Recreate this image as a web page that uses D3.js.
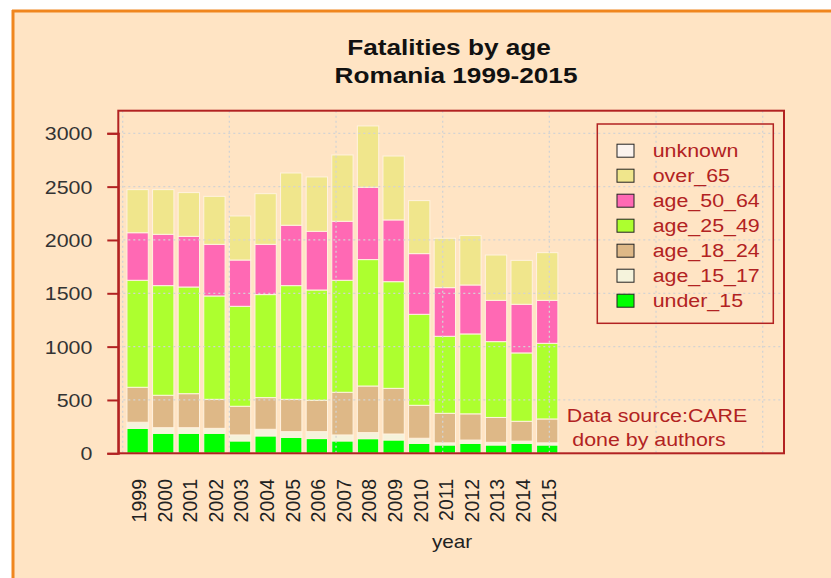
<!DOCTYPE html>
<html>
<head>
<meta charset="utf-8">
<script src="https://cdn.jsdelivr.net/npm/d3@7"></script>
<style>
  body { margin: 0; background: #fff; }
  svg { display: block; font-family: "Liberation Sans", Arial, sans-serif; }
</style>
</head>
<body>
<div class="chart"></div>
<script>
// data
var years = ["1999","2000","2001","2002","2003","2004","2005","2006","2007",
             "2008","2009","2010","2011","2012","2013","2014","2015"];
var under_15  = [234, 188, 188, 188, 116, 163, 150, 138, 116, 137, 125,  94,  78,  94,  78,  94,  78];
var age_15_17 = [ 57,  52,  52,  46,  56,  62,  53,  65,  56,  57,  56,  47,  20,  30,  25,  20,  20];
var age_18_24 = [328, 304, 319, 272, 269, 297, 303, 294, 400, 437, 428, 309, 277, 246, 233, 186, 224];
var age_25_49 = [1003,1028,1000, 969, 937, 966,1066,1034,1050,1185,1000, 853, 722, 749, 711, 641, 709];
var age_50_64 = [446, 481, 475, 484, 434, 471, 566, 550, 553, 678, 579, 569, 456, 459, 387, 456, 403];
var over_65   = [404, 419, 410, 450, 413, 475, 490, 510, 622, 575, 599, 497, 463, 463, 425, 412, 447];
var unknown   = [  0,   0,   0,   0,   0,   0,   0,   0,   0,   0,   0,   0,   0,   0,   0,   0,   0];
var keys = ["under_15","age_15_17","age_18_24","age_25_49","age_50_64","over_65","unknown"];
var yTicks = [0, 500, 1000, 1500, 2000, 2500, 3000];

var colors = {
  under_15: "#00ff00", age_15_17: "#f5f3dc", age_18_24: "#deb887",
  age_25_49: "#adff2f", age_50_64: "#ff69b4", over_65: "#f0e68c", unknown: "#fbf3ee"
};
var red = "#b22222";
var sx = 1.15; // the picture is a bit wider than tall

var svgWidth = 831, svgHeight = 578;
var box = { left: 118.3, right: 784, top: 110.7, bottom: 453.3 };

var rows = years.map(function(y, i) {
  return { year: y, under_15: under_15[i], age_15_17: age_15_17[i], age_18_24: age_18_24[i],
    age_25_49: age_25_49[i], age_50_64: age_50_64[i], over_65: over_65[i], unknown: unknown[i] };
});

var svg = d3.select(".chart").append("svg")
  .attr("width", svgWidth)
  .attr("height", svgHeight);

// page background with orange frame
svg.append("rect").attr("x", 12).attr("y", 10).attr("width", 830).attr("height", 580).attr("fill", "#ffe4c4");
svg.append("line").attr("x1", 12).attr("x2", 831).attr("y1", 11).attr("y2", 11)
  .attr("stroke", "#f0861e").attr("stroke-width", 3);
svg.append("line").attr("x1", 13).attr("x2", 13).attr("y1", 10).attr("y2", 578)
  .attr("stroke", "#f0861e").attr("stroke-width", 3);

// R-like user units on x: bar slot 1.2, gridlines every 5
var xu = d3.scaleLinear().domain([0, 30]).range([122.7, 762.7]);
var x = d3.scaleBand().domain(years)
  .range([xu(0.1), xu(20.5)])
  .paddingInner(1 / 6).paddingOuter(1 / 12);
var y = d3.scaleLinear().domain([0, 3000]).range([box.bottom, 133.3]);

var stacked = d3.stack().keys(keys)(rows);

svg.append("g").selectAll("g")
  .data(stacked)
  .enter().append("g")
  .attr("fill", d => colors[d.key])
  .selectAll("rect")
  .data(d => d)
  .enter().append("rect")
  .attr("x", d => x(d.data.year))
  .attr("width", x.bandwidth())
  .attr("y", d => y(d[1]))
  .attr("height", d => y(d[0]) - y(d[1]))
  .attr("stroke", "#fff2df")
  .attr("stroke-width", 1)
  .attr("display", d => d[1] - d[0] > 0 ? null : "none");

// dotted grid
var grid = svg.append("g").attr("stroke", "#d3d3d3").attr("stroke-width", 1.3)
  .attr("stroke-dasharray", "2,3");
grid.selectAll(".hg").data(yTicks).enter().append("line")
  .attr("x1", box.left).attr("x2", box.right)
  .attr("y1", d => y(d)).attr("y2", d => y(d));
grid.selectAll(".vg").data([0, 5, 10, 15, 20, 25, 30]).enter().append("line")
  .attr("x1", d => xu(d)).attr("x2", d => xu(d))
  .attr("y1", box.top).attr("y2", box.bottom);

// plot frame
svg.append("rect")
  .attr("x", box.left).attr("y", box.top)
  .attr("width", box.right - box.left).attr("height", box.bottom - box.top)
  .attr("fill", "none").attr("stroke", red).attr("stroke-width", 2);

// y axis
var leftAxis = d3.axisLeft(y).tickValues(yTicks).tickSize(11).tickPadding(14).tickFormat(d3.format("d"));
var yAxis = svg.append("g")
  .attr("transform", `translate(${box.left}, 0)`)
  .call(leftAxis);
yAxis.select(".domain").attr("stroke", red).attr("stroke-width", 2);
yAxis.selectAll(".tick line").attr("stroke", red).attr("stroke-width", 2);
yAxis.selectAll(".tick text").remove();
yAxis.selectAll(".tick").append("text")
  .attr("transform", `translate(-26, 0) scale(${sx}, 1)`)
  .attr("dy", "0.35em")
  .attr("text-anchor", "end")
  .attr("fill", "#333")
  .attr("font-size", 18.6)
  .text(d => d);

// year labels, rotated
svg.append("g").selectAll("text")
  .data(years)
  .enter().append("text")
  .attr("transform", d => `translate(${x(d) + x.bandwidth() / 2 + 1.5}, 479) rotate(-90)`)
  .attr("dy", "0.35em")
  .attr("text-anchor", "end")
  .attr("fill", "#222")
  .attr("font-size", 19.5)
  .text(d => d);

function stretched(px, py, str, size, anchor, fill, weight) {
  return svg.append("text")
    .attr("transform", `translate(${px}, ${py}) scale(${sx}, 1)`)
    .attr("text-anchor", anchor)
    .attr("font-size", size)
    .attr("font-weight", weight || "normal")
    .attr("fill", fill)
    .text(str);
}

// titles
svg.append("text")
  .attr("transform", `translate(449, 55) scale(1.19, 1)`)
  .attr("text-anchor", "middle").attr("font-size", 22).attr("font-weight", "bold")
  .attr("fill", "#111").text("Fatalities by age");
svg.append("text")
  .attr("transform", `translate(456, 83) scale(1.19, 1)`)
  .attr("text-anchor", "middle").attr("font-size", 22).attr("font-weight", "bold")
  .attr("fill", "#111").text("Romania 1999-2015");

stretched(452, 548, "year", 18, "middle", "#222");

// source note
stretched(566.7, 421.5, "Data source:CARE", 18.6, "start", red);
stretched(572.3, 445.5, "done by authors", 18.6, "start", red);

// legend
var legendKeys = keys.slice().reverse();
var legend = svg.append("g");
legend.append("rect")
  .attr("x", 597.3).attr("y", 124).attr("width", 176).attr("height", 199.3)
  .attr("fill", "none").attr("stroke", red).attr("stroke-width", 1.5);
var items = legend.selectAll(".item")
  .data(legendKeys)
  .enter().append("g")
  .attr("class", "item")
  .attr("transform", (d, i) => `translate(0, ${150.7 + i * 25})`);
items.append("rect")
  .attr("x", 617).attr("y", -6.5).attr("width", 17).attr("height", 13)
  .attr("fill", d => colors[d]).attr("stroke", "#222").attr("stroke-width", 1);
items.append("text")
  .attr("transform", `translate(652.7, 0) scale(${sx}, 1)`)
  .attr("dy", "0.35em")
  .attr("font-size", 18.6)
  .attr("fill", red)
  .text(d => d);
</script>
</body>
</html>
